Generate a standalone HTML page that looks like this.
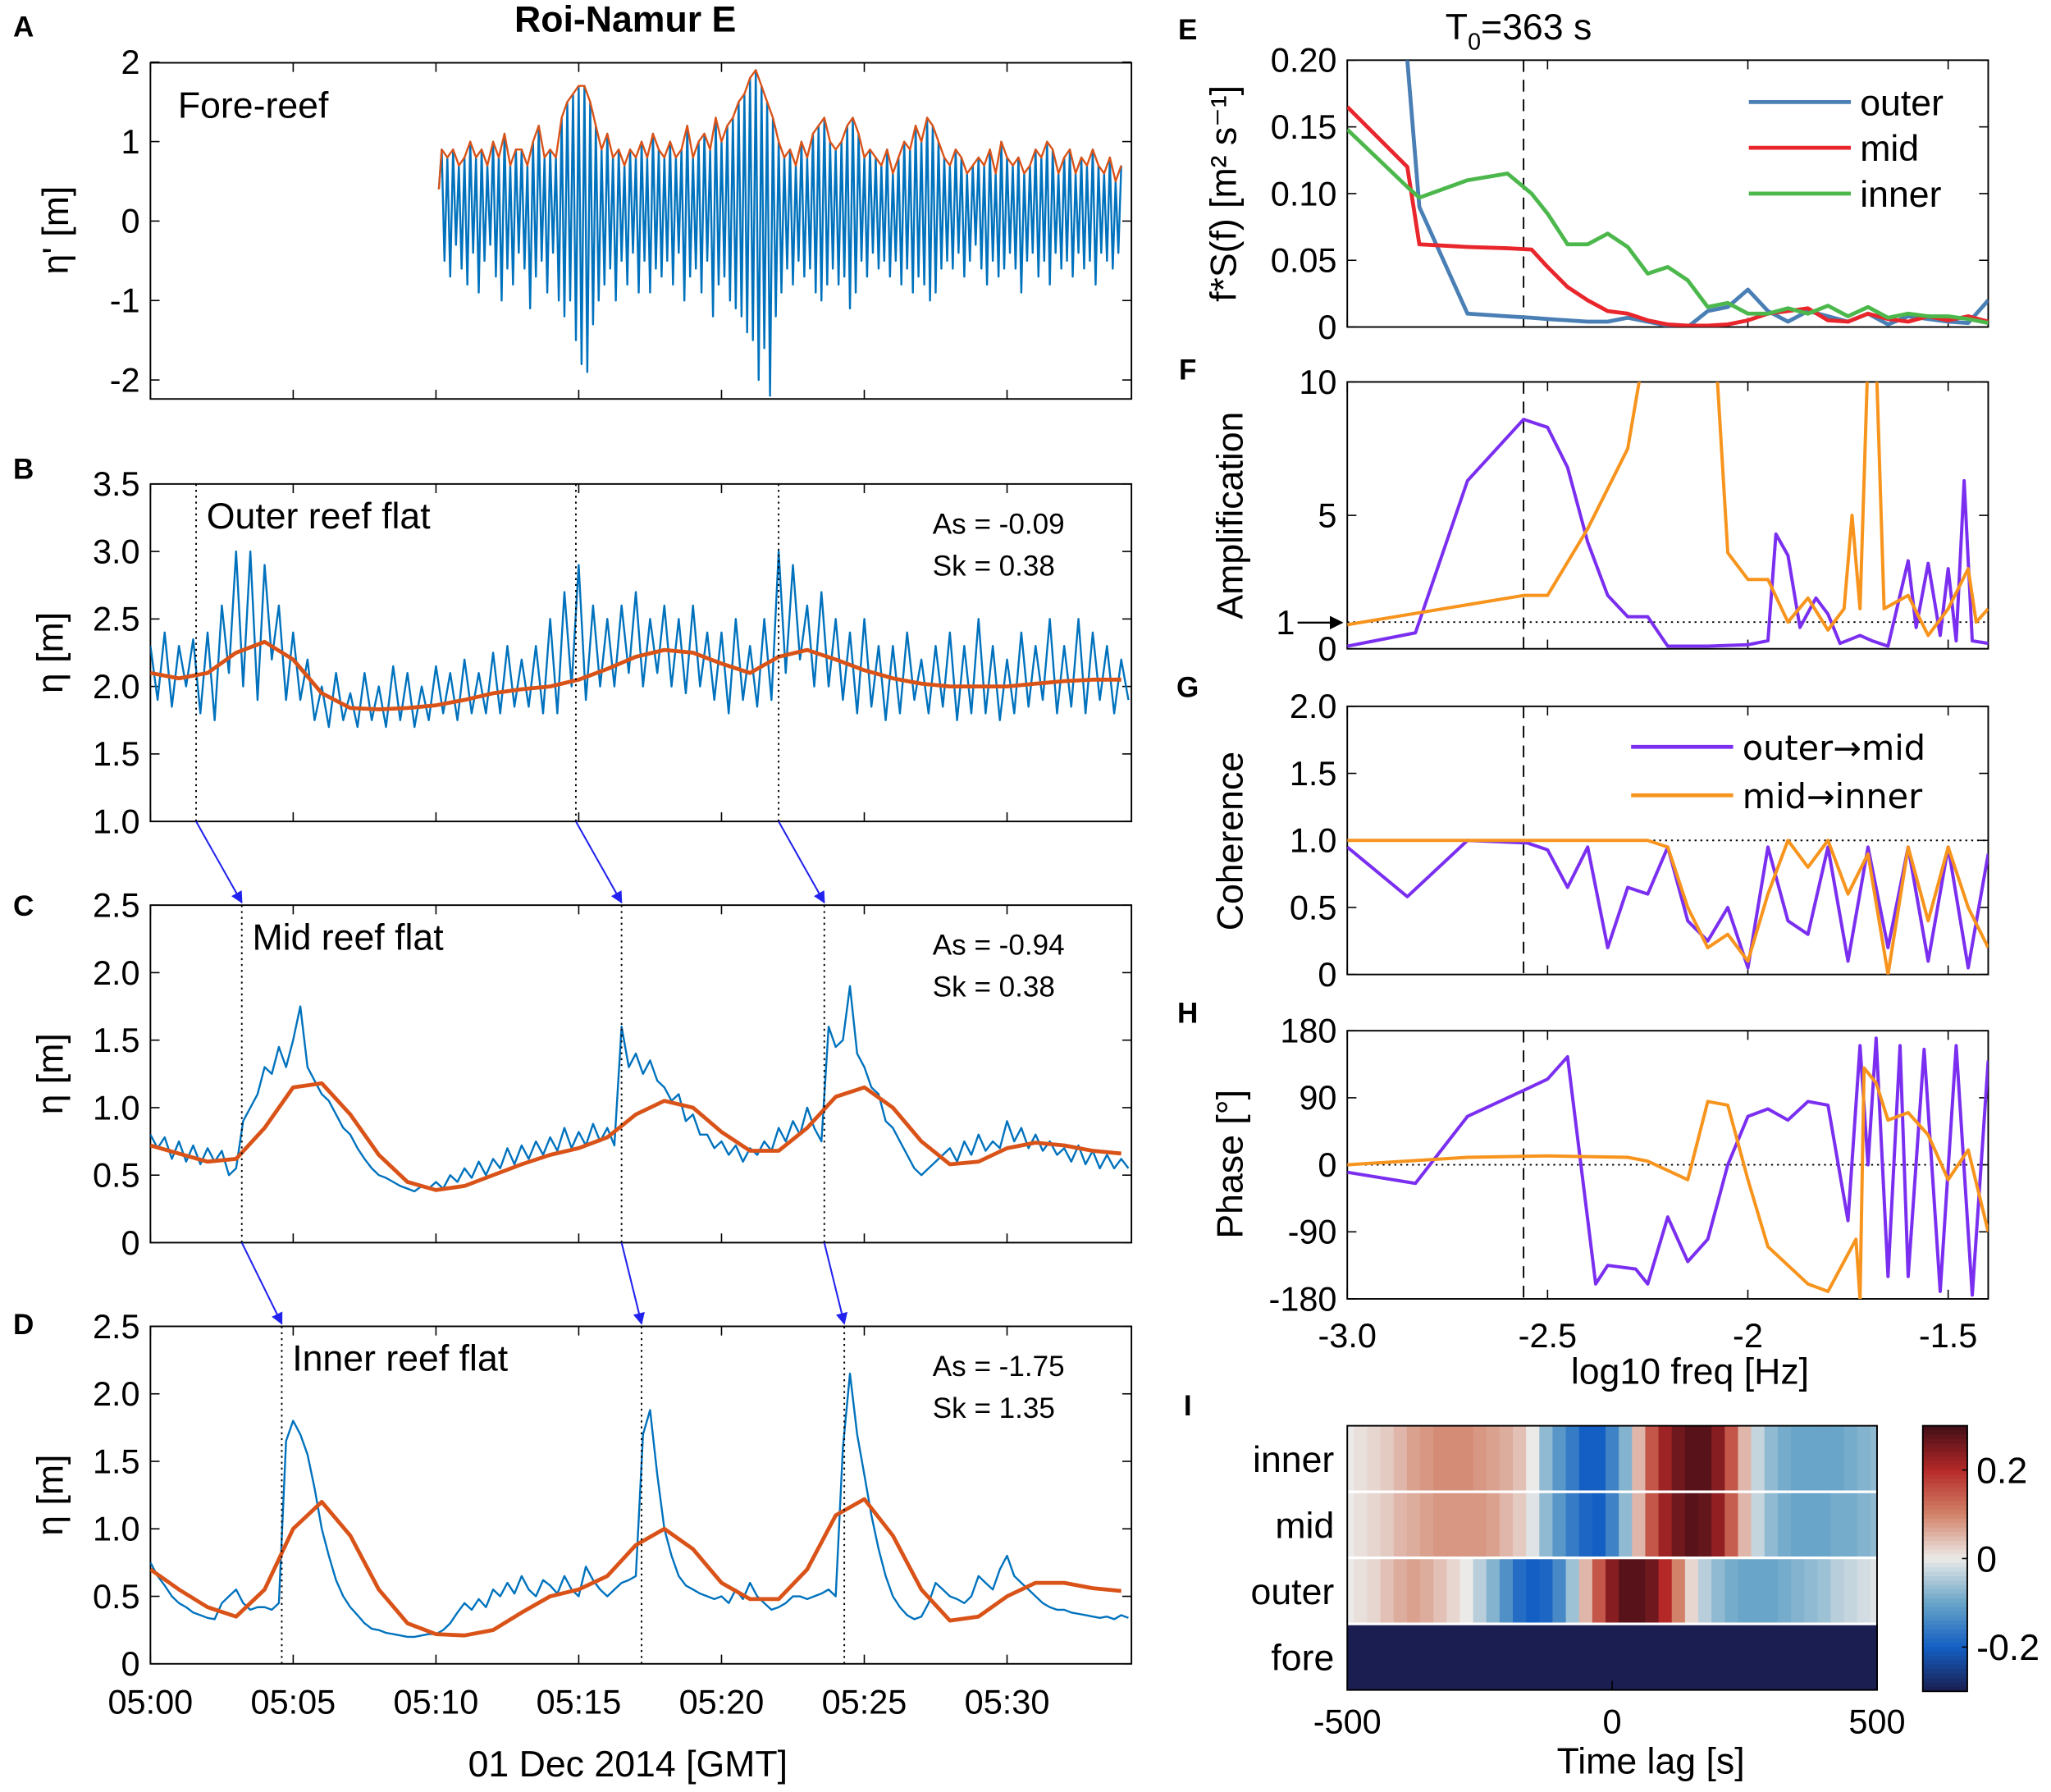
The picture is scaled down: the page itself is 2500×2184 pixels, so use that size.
<!DOCTYPE html>
<html><head><meta charset="utf-8"><style>
html,body{margin:0;padding:0;background:#fff;}
svg{display:block;font-family:"Liberation Sans",Arial,sans-serif;}
</style></head><body>
<svg id="fig" xmlns="http://www.w3.org/2000/svg" width="2500" height="2184" viewBox="0 0 1568 1370" preserveAspectRatio="none">
<defs>
<marker id="arr" viewBox="0 0 10 10" refX="9" refY="5" markerWidth="7" markerHeight="7" orient="auto"><path d="M0,0 L10,5 L0,10 z" fill="#2222ee"/></marker>
<marker id="arrk" viewBox="0 0 10 10" refX="9" refY="5" markerWidth="7" markerHeight="7" orient="auto"><path d="M0,0 L10,5 L0,10 z" fill="#000"/></marker>
</defs>
</svg>
<script>
// ---------------- data ----------------
const aStart = 10.1, aStep = 0.1;
const foreReef = [0.4,0.9,-0.5,0.8,-0.7,0.9,-0.3,0.7,-0.6,0.8,
-0.8,1.0,-0.4,0.8,-0.9,0.9,-0.5,0.7,-0.3,1.0,
-0.7,0.8,-1.0,1.1,-0.6,0.7,-0.8,0.9,-0.4,0.9,
-0.6,0.7,-1.1,1.0,-0.7,1.2,-0.5,0.8,-0.9,0.9,
-0.4,0.8,-1.0,1.3,-1.2,1.5,-1.0,1.6,-1.5,1.7,
-1.8,1.7,-1.9,1.5,-1.3,1.2,-1.0,0.9,-0.8,1.1,
-0.6,0.8,-1.0,0.9,-0.5,0.7,-0.8,0.9,-0.4,0.8,
-0.9,1.0,-0.5,0.8,-0.9,1.1,-0.6,0.9,-0.7,0.8,
-0.5,1.0,-0.8,0.8,-0.4,0.9,-1.0,1.2,-0.7,0.8,
-0.6,1.0,-0.9,1.1,-0.5,0.9,-1.2,1.3,-0.8,1.0,
-0.7,1.2,-1.0,1.3,-1.1,1.5,-1.2,1.6,-1.4,1.8,
-1.5,1.9,-2.0,1.7,-1.6,1.5,-2.2,1.3,-1.2,1.0,
-0.9,0.8,-0.6,0.9,-0.8,0.7,-0.5,1.0,-0.7,0.8,
-0.6,1.1,-0.9,1.2,-1.0,1.3,-0.8,1.0,-0.6,0.9,
-0.8,1.0,-0.7,1.2,-1.1,1.3,-0.9,1.1,-0.5,0.8,
-0.7,0.9,-0.4,0.8,-0.6,0.7,-0.5,0.9,-0.7,0.6,
-0.5,0.8,-0.8,1.0,-0.6,0.9,-0.9,1.2,-0.7,1.0,
-0.8,1.3,-1.0,1.2,-0.9,1.0,-0.6,0.8,-0.5,0.7,
-0.6,0.9,-0.4,0.8,-0.7,0.6,-0.5,0.7,-0.3,0.8,
-0.6,0.7,-0.8,0.9,-0.5,0.6,-0.7,1.0,-0.6,0.8,
-0.4,0.7,-0.6,0.8,-0.9,0.6,-0.5,0.7,-0.4,0.9,
-0.7,0.8,-0.5,1.0,-0.8,0.9,-0.4,0.6,-0.6,0.8,
-0.5,0.9,-0.7,0.6,-0.4,0.8,-0.6,0.7,-0.5,0.9,
-0.8,0.7,-0.4,0.6,-0.5,0.8,-0.6,0.5,-0.4,0.7];
const rawStep = 0.25, meanStep = 1;
const outerRaw = [2.3,1.9,2.4,1.85,2.3,2.0,2.35,1.8,
2.4,1.75,2.6,2.1,3.0,2.0,3.0,1.9,
2.9,2.2,2.6,1.9,2.4,1.9,2.2,1.75,
2.0,1.7,2.1,1.75,1.95,1.7,2.1,1.75,
2.0,1.7,2.15,1.75,2.1,1.7,2.0,1.75,
2.15,1.8,2.1,1.75,2.2,1.8,2.1,1.8,
2.25,1.8,2.3,1.85,2.2,1.85,2.3,1.8,
2.5,1.8,2.7,2.0,2.9,1.9,2.6,2.0,
2.5,2.0,2.6,2.1,2.7,2.0,2.5,2.1,
2.6,2.0,2.5,1.95,2.6,2.0,2.4,1.9,
2.4,1.8,2.5,1.9,2.3,1.85,2.5,1.9,
3.0,2.1,2.9,2.2,2.6,2.0,2.7,2.0,
2.5,1.9,2.4,1.8,2.5,1.85,2.3,1.75,
2.3,1.8,2.4,1.9,2.2,1.8,2.3,1.85,
2.4,1.75,2.3,1.8,2.5,1.8,2.3,1.75,
2.2,1.8,2.4,1.85,2.3,1.9,2.5,1.8,
2.3,1.85,2.5,1.8,2.4,1.9,2.3,1.8,2.2,1.9];
const outerMean = [2.10,2.06,2.10,2.25,2.33,2.20,1.95,1.84,1.83,1.84,1.86,1.90,1.95,1.98,2.00,2.05,2.13,2.22,2.27,2.25,2.17,2.10,2.22,2.27,2.20,2.12,2.06,2.02,2.00,2.00,2.00,2.02,2.04,2.05,2.05];
const midRaw = [0.8,0.7,0.78,0.62,0.75,0.6,0.72,0.58,
0.7,0.6,0.68,0.5,0.55,0.9,1.0,1.1,
1.3,1.25,1.45,1.3,1.5,1.75,1.3,1.2,
1.1,1.05,0.95,0.85,0.8,0.7,0.62,0.55,
0.5,0.48,0.45,0.42,0.4,0.38,0.42,0.4,
0.45,0.4,0.5,0.45,0.55,0.48,0.6,0.5,
0.62,0.55,0.7,0.58,0.72,0.62,0.75,0.65,
0.78,0.68,0.85,0.7,0.82,0.72,0.88,0.75,
0.85,0.72,1.6,1.3,1.4,1.25,1.35,1.2,
1.15,1.05,1.1,0.9,0.95,0.8,0.8,0.7,
0.75,0.65,0.72,0.6,0.7,0.65,0.75,0.68,
0.85,0.75,0.9,0.8,1.0,0.85,0.75,1.6,
1.45,1.5,1.9,1.4,1.3,1.15,1.1,0.9,
0.85,0.75,0.65,0.55,0.5,0.55,0.6,0.65,
0.7,0.6,0.75,0.65,0.8,0.68,0.75,0.7,
0.9,0.75,0.85,0.7,0.8,0.68,0.75,0.65,
0.7,0.6,0.72,0.58,0.68,0.55,0.65,0.55,0.62,0.55];
const midMean = [0.72,0.66,0.60,0.62,0.85,1.15,1.18,0.95,0.65,0.45,0.39,0.42,0.50,0.58,0.65,0.70,0.78,0.95,1.05,1.00,0.82,0.68,0.68,0.85,1.08,1.15,1.00,0.75,0.58,0.60,0.70,0.74,0.72,0.68,0.66];
const innerRaw = [0.75,0.65,0.58,0.5,0.45,0.42,0.38,0.36,
0.34,0.33,0.45,0.5,0.55,0.45,0.4,0.42,
0.42,0.4,0.45,1.65,1.8,1.7,1.55,1.3,
1.0,0.8,0.62,0.5,0.42,0.36,0.3,0.26,
0.25,0.23,0.22,0.21,0.2,0.2,0.21,0.22,
0.22,0.25,0.3,0.38,0.45,0.4,0.48,0.42,
0.55,0.5,0.6,0.52,0.65,0.55,0.5,0.62,
0.58,0.52,0.65,0.55,0.5,0.72,0.62,0.55,
0.5,0.55,0.6,0.62,0.65,1.7,1.88,1.4,
1.0,0.8,0.65,0.58,0.55,0.52,0.5,0.48,
0.5,0.45,0.55,0.48,0.6,0.5,0.45,0.4,
0.42,0.45,0.5,0.5,0.48,0.5,0.52,0.55,
0.5,1.6,2.15,1.7,1.4,1.1,0.85,0.65,
0.5,0.42,0.36,0.33,0.35,0.45,0.6,0.55,
0.5,0.48,0.45,0.5,0.65,0.6,0.55,0.7,
0.8,0.65,0.6,0.55,0.5,0.45,0.42,0.4,
0.4,0.38,0.37,0.36,0.35,0.34,0.35,0.33,0.36,0.34];
const innerMean = [0.70,0.55,0.42,0.35,0.55,1.00,1.20,0.95,0.55,0.30,0.22,0.21,0.25,0.38,0.50,0.55,0.65,0.88,1.00,0.85,0.60,0.48,0.48,0.70,1.10,1.22,0.95,0.55,0.32,0.35,0.50,0.60,0.60,0.56,0.54];
const eventsB = [1.6,14.9,22.0], eventsC = [3.2,16.5,23.6], eventsD = [4.6,17.2,24.3];

// spectra (log10 freq, value)
const specFreq = [-3.0,-2.85,-2.82,-2.7,-2.6,-2.54,-2.5,-2.45,-2.4,-2.35,-2.3,-2.25,-2.2,-2.15,-2.1,-2.05,-2.0,-1.95,-1.9,-1.85,-1.8,-1.75,-1.7,-1.65,-1.6,-1.55,-1.5,-1.45,-1.4];
const specOuter = [0.5,0.2,0.09,0.01,0.008,0.007,0.006,0.005,0.004,0.004,0.007,0.004,0.001,0.0,0.012,0.015,0.028,0.012,0.004,0.012,0.008,0.004,0.010,0.002,0.008,0.006,0.004,0.003,0.02];
const specMid = [0.165,0.12,0.062,0.06,0.059,0.058,0.045,0.03,0.02,0.012,0.01,0.005,0.002,0.001,0.001,0.002,0.005,0.01,0.012,0.014,0.005,0.004,0.01,0.006,0.004,0.008,0.005,0.008,0.004];
const specInner = [0.148,0.105,0.097,0.11,0.115,0.1,0.085,0.062,0.062,0.07,0.06,0.04,0.045,0.035,0.015,0.018,0.01,0.01,0.014,0.01,0.016,0.008,0.015,0.007,0.01,0.008,0.008,0.006,0.003];
const ampFreq = [-3.0,-2.83,-2.7,-2.56,-2.5,-2.45,-2.4,-2.35,-2.3,-2.25,-2.2,-2.1,-2.0,-1.95,-1.93,-1.9,-1.87,-1.83,-1.8,-1.77,-1.72,-1.69,-1.65,-1.6,-1.58,-1.55,-1.52,-1.5,-1.48,-1.46,-1.44,-1.4];
const ampOuterMid = [0.1,0.6,6.3,8.6,8.3,6.8,4.0,2.0,1.2,1.2,0.1,0.1,0.15,0.3,4.3,3.5,0.8,1.9,1.3,0.2,0.5,0.3,0.1,3.3,0.8,3.2,0.5,3.0,0.3,6.3,0.3,0.2];
const ampFreq2 = [-3.0,-2.56,-2.5,-2.4,-2.3,-2.26,-2.08,-2.05,-2.0,-1.95,-1.9,-1.85,-1.8,-1.76,-1.74,-1.72,-1.7,-1.68,-1.66,-1.6,-1.55,-1.5,-1.45,-1.43,-1.4];
const ampMidInner = [0.9,2.0,2.0,4.5,7.5,11,11,3.6,2.6,2.6,1.0,1.9,0.7,1.5,5.0,1.5,11,11,1.5,2.0,0.5,1.5,3.0,1.0,1.5];
const cohFreq = [-3.0,-2.85,-2.7,-2.55,-2.5,-2.45,-2.4,-2.35,-2.3,-2.25,-2.2,-2.15,-2.1,-2.05,-2.0,-1.95,-1.9,-1.85,-1.8,-1.75,-1.7,-1.65,-1.6,-1.55,-1.5,-1.45,-1.4];
const cohOuterMid = [0.95,0.58,1.0,0.98,0.93,0.65,0.95,0.2,0.65,0.6,0.95,0.4,0.25,0.5,0.05,0.95,0.4,0.3,0.95,0.1,0.95,0.2,0.95,0.1,0.95,0.05,0.9];
const cohMidInner = [1.0,1.0,1.0,1.0,1.0,1.0,1.0,1.0,1.0,1.0,0.95,0.5,0.2,0.3,0.1,0.6,1.0,0.8,1.0,0.6,0.9,0.0,0.95,0.4,0.95,0.5,0.2];
const phFreq = [-3.0,-2.83,-2.7,-2.56,-2.5,-2.45,-2.38,-2.35,-2.28,-2.25,-2.2,-2.15,-2.1,-2.05,-2.0,-1.95,-1.9,-1.85,-1.8,-1.75,-1.72,-1.7,-1.68,-1.65,-1.62,-1.6,-1.56,-1.52,-1.48,-1.44,-1.4];
const phOuterMid = [-10,-25,65,100,115,145,-160,-135,-140,-160,-70,-130,-100,0,65,75,60,85,80,-75,160,0,170,-150,160,-150,155,-170,160,-175,140];
const phFreq2 = [-3.0,-2.7,-2.5,-2.3,-2.25,-2.15,-2.1,-2.05,-2.0,-1.95,-1.85,-1.8,-1.75,-1.73,-1.72,-1.71,-1.68,-1.65,-1.6,-1.55,-1.5,-1.45,-1.4];
const phMidInner = [0,10,12,10,5,-20,85,80,-20,-110,-160,-170,-120,-100,-180,130,110,60,70,40,-20,20,-90];

// heatmap
const lagStart = -500, lagStep = 25;
const rowNames = ["inner","mid","outer","fore"];
const corrInner = [0,0.01,0.02,0.03,0.05,0.07,0.08,0.09,0.09,0.09,0.08,0.07,0.06,0.04,0.0,-0.07,-0.12,-0.16,-0.2,-0.2,-0.15,-0.08,0.05,0.15,0.22,0.26,0.28,0.28,0.24,0.15,0.05,-0.03,-0.07,-0.09,-0.1,-0.1,-0.1,-0.1,-0.09,-0.08,-0.07];
const corrMid = [0,0.01,0.02,0.03,0.05,0.06,0.07,0.08,0.08,0.08,0.08,0.07,0.05,0.03,-0.01,-0.07,-0.12,-0.16,-0.19,-0.2,-0.15,-0.07,0.05,0.15,0.22,0.26,0.28,0.27,0.23,0.14,0.05,-0.03,-0.07,-0.09,-0.1,-0.1,-0.1,-0.09,-0.09,-0.08,-0.07];
const corrOuter = [0,0.01,0.02,0.04,0.06,0.07,0.06,0.04,0.02,0.0,-0.04,-0.08,-0.13,-0.18,-0.2,-0.19,-0.14,-0.06,0.05,0.15,0.24,0.28,0.28,0.26,0.2,0.1,0.02,-0.04,-0.07,-0.09,-0.1,-0.1,-0.1,-0.09,-0.08,-0.07,-0.06,-0.04,-0.03,-0.02,-0.01];
const corrFore = [-0.3,-0.3,-0.3,-0.3,-0.3,-0.3,-0.3,-0.3,-0.3,-0.3,-0.3,-0.3,-0.3,-0.3,-0.3,-0.3,-0.3,-0.3,-0.3,-0.3,-0.3,-0.3,-0.3,-0.3,-0.3,-0.3,-0.3,-0.3,-0.3,-0.3,-0.3,-0.3,-0.3,-0.3,-0.3,-0.3,-0.3,-0.3,-0.3,-0.3,-0.3];

// ---------------- drawing ----------------
const NS = "http://www.w3.org/2000/svg";
const svg = document.getElementById('fig');
function mk(tag, attrs, parent){const e=document.createElementNS(NS,tag);for(const k in attrs)e.setAttribute(k,attrs[k]);(parent||svg).appendChild(e);return e;}
function txt(x,y,s,size,anchor,extra){const e=mk('text',Object.assign({x:x,y:y,'font-size':size,'text-anchor':anchor||'middle',fill:'#000'},extra||{}));e.textContent=s;return e;}
let clipN=0;
function clip(x0,y0,x1,y1){const id='c'+(clipN++);const cp=mk('clipPath',{id:id});mk('rect',{x:x0,y:y0,width:x1-x0,height:y1-y0},cp);return 'url(#'+id+')';}
function poly(xs,ys,fx,fy,color,w,cl){const p=xs.map((x,i)=>fx(x).toFixed(1)+','+fy(ys[i]).toFixed(1)).join(' ');return mk('polyline',{points:p,fill:'none',stroke:color,'stroke-width':w,'stroke-linejoin':'round','clip-path':cl});}

const xT = t => 115 + t*21.83;
const X0=115, X1=865;
const BLUE='#0072bd', ORANGE='#d95319';
function timeFrame(y0,y1,name){
  const r=mk('rect',{x:X0,y:y0,width:X1-X0,height:y1-y0,fill:'none',stroke:'#000','stroke-width':1.2});
  
  
  for(let m=0;m<=30;m+=5){const x=xT(m);
    const t1=mk('line',{x1:x,x2:x,y1:y1,y2:y1-7,stroke:'#000','stroke-width':1});
    
    
    const t2=mk('line',{x1:x,x2:x,y1:y0,y2:y0+7,stroke:'#000','stroke-width':1});
    
    }
}
function yTicks(vals,labels,fy,xL,xR,name){vals.forEach((v,i)=>{const y=fy(v);
  const t=mk('line',{x1:xL,x2:xL+7,y1:y,y2:y,stroke:'#000','stroke-width':1});
  
  
  const t2=mk('line',{x1:xR,x2:xR-7,y1:y,y2:y,stroke:'#000','stroke-width':1});
  
  
  const l=txt(xL-8,y+9,labels[i],26,'end');
  
  });}
function ylabel(x,y,s,name){const e=txt(x,y,s,28,'middle',{transform:'rotate(-90 '+x+' '+y+')'});
  
  return e;}

let e=txt(478,24,'Roi-Namur E',28,'middle',{'font-weight':'bold'});


[['A',18,28],['B',18,366],['C',18,700],['D',18,1020],['E',908,30],['F',908,290],['G',908,533],['H',908,782],['I',908,1082]].forEach(a=>{
  const l=txt(a[1],a[2],a[0],22,'middle',{'font-weight':'bold'});
  
  });

// Panel A
const yA = v => 169 - v*60.75;
timeFrame(48,305,'panel-a');
yTicks([-2,-1,0,1,2],['-2','-1','0','1','2'],yA,X0,X1,'panel-a');
ylabel(52,176,"η' [m]",'panel-a-y-label');
const clA=clip(X0,48,X1,305);
const tA=foreReef.map((v,i)=>aStart+i*aStep);
e=poly(tA,foreReef,xT,yA,BLUE,1.5,clA);


const envT=[],envV=[];foreReef.forEach((v,i)=>{if(v>0.3||i===0){envT.push(tA[i]);envV.push(v);}});
e=poly(envT,envV,xT,yA,ORANGE,1.5,clA);


e=txt(136,90,'Fore-reef',28,'start');



function tsPanel(y0,y1,fy,ticks,labels,raw,mean,events,title,as,sk,name){
  timeFrame(y0,y1,name);
  yTicks(ticks,labels,fy,X0,X1,name);
  ylabel(48,(y0+y1)/2,'η [m]',name+'-y-label');
  const cl=clip(X0,y0,X1,y1);
  const tr=raw.map((v,i)=>i*rawStep);
  let p=poly(tr,raw,xT,fy,BLUE,1.5,cl);
  
  
  const tm=mean.map((v,i)=>i*meanStep);
  p=poly(tm,mean,xT,fy,ORANGE,3,cl);
  
  
  events.forEach(t=>{const l=mk('line',{x1:xT(t),x2:xT(t),y1:y0,y2:y1,stroke:'#000','stroke-width':1.2,'stroke-dasharray':'1.5,3'});
    
    });
  let q=txt(xT(events[0])+8,y0+34,title,28,'start');
  
  
  q=txt(713,y0+38,'As = '+as,22,'start');
  
  
  q=txt(713,y0+70,'Sk = '+sk,22,'start');
  
  
}
const yB=v=>628-(v-1)*103.2, yC=v=>950-v*103.2, yD=v=>1272-v*103.2;
tsPanel(370,628,yB,[1,1.5,2,2.5,3,3.5],['1.0','1.5','2.0','2.5','3.0','3.5'],outerRaw,outerMean,eventsB,'Outer reef flat','-0.09','0.38','panel-b');
tsPanel(692,950,yC,[0,0.5,1,1.5,2,2.5],['0','0.5','1.0','1.5','2.0','2.5'],midRaw,midMean,eventsC,'Mid reef flat','-0.94','0.38','panel-c');
tsPanel(1014,1272,yD,[0,0.5,1,1.5,2,2.5],['0','0.5','1.0','1.5','2.0','2.5'],innerRaw,innerMean,eventsD,'Inner reef flat','-1.75','1.35','panel-d');
[[eventsB,eventsC,628,692],[eventsC,eventsD,950,1014]].forEach(g=>{g[0].forEach((t,i)=>{
  const a=mk('line',{x1:xT(t),y1:g[2],x2:xT(g[1][i]),y2:g[3]-2,stroke:'#2222ee','stroke-width':1.3,'marker-end':'url(#arr)'});
  
  });});
['05:00','05:05','05:10','05:15','05:20','05:25','05:30'].forEach((s,i)=>{
  const l=txt(xT(i*5),1310,s,26,'middle');
  
  });
e=txt(480,1358,'01 Dec 2014 [GMT]',28,'middle');



const RX0=1030, RX1=1520;
const xL = l => RX0 + (l+3)*306.25;
function rFrame(y0,y1,name){
  const r=mk('rect',{x:RX0,y:y0,width:RX1-RX0,height:y1-y0,fill:'none',stroke:'#000','stroke-width':1.2});
  
  
  [-3,-2.5,-2,-1.5].forEach(v=>{const x=xL(v);
    const t=mk('line',{x1:x,x2:x,y1:y1,y2:y1-7,stroke:'#000','stroke-width':1});
    
    
    const t2=mk('line',{x1:x,x2:x,y1:y0,y2:y0+7,stroke:'#000','stroke-width':1});
    
    });
  const d=mk('line',{x1:xL(Math.log10(1/363)),x2:xL(Math.log10(1/363)),y1:y0,y2:y1,stroke:'#000','stroke-width':1.2,'stroke-dasharray':'9,6'});
  
  
  return clip(RX0,y0,RX1,y1);
}
function refLine(y,name){const l=mk('line',{x1:RX0,x2:RX1,y1:y,y2:y,stroke:'#000','stroke-width':1.2,'stroke-dasharray':'1.5,3'});
  
  }
const PURPLE='#7a2ff0', YORANGE='#f7941d';
const yE=v=>250-v*1020;
let cl=rFrame(46,250,'panel-e');
yTicks([0,0.05,0.1,0.15,0.2],['0','0.05','0.10','0.15','0.20'],yE,RX0,RX1,'panel-e');
ylabel(945,148,'f*S(f) [m² s⁻¹]','panel-e-y-label');
[[specOuter,'#4a7fb5','outer'],[specMid,'#e8262b','mid'],[specInner,'#4cb84c','inner']].forEach((s,i)=>{
  const p=poly(specFreq,s[0],xL,yE,s[1],3,cl);
  
  
  const y=78+i*35;
  const l=mk('line',{x1:1337,x2:1415,y1:y,y2:y,stroke:s[1],'stroke-width':3});
  
  
  const t=txt(1422,y+10,s[2],28,'start');
  
  });
e=mk('text',{x:1105,y:30,'font-size':28,fill:'#000'});
e.innerHTML='T<tspan font-size="18" dy="8">0</tspan><tspan dy="-8">=363 s</tspan>';


const yF=v=>496-v*20.4;
cl=rFrame(292,496,'panel-f');
yTicks([0,5,10],['0','5','10'],yF,RX0,RX1,'panel-f');
e=txt(990,485,'1',26,'end');


e=mk('line',{x1:992,x2:1026,y1:476,y2:476,stroke:'#000','stroke-width':1.5,'marker-end':'url(#arrk)'});


refLine(yF(1),'panel-f-unity-line');
ylabel(950,394,'Amplification','panel-f-y-label');
e=poly(ampFreq,ampOuterMid,xL,yF,PURPLE,2.5,cl);


e=poly(ampFreq2,ampMidInner,xL,yF,YORANGE,2.5,cl);


const yG=v=>745-v*102.5;
cl=rFrame(540,745,'panel-g');
yTicks([0,0.5,1,1.5,2],['0','0.5','1.0','1.5','2.0'],yG,RX0,RX1,'panel-g');
refLine(yG(1),'panel-g-unity-line');
ylabel(950,643,'Coherence','panel-g-y-label');
e=poly(cohFreq,cohOuterMid,xL,yG,PURPLE,2.5,cl);


e=poly(cohFreq,cohMidInner,xL,yG,YORANGE,2.5,cl);


[[PURPLE,'outer→mid'],[YORANGE,'mid→inner']].forEach((s,i)=>{const y=571+i*37;
  const l=mk('line',{x1:1247,x2:1325,y1:y,y2:y,stroke:s[0],'stroke-width':3});
  
  
  const t=txt(1332,y+10,s[1],28,'start',{'font-family':'"DejaVu Sans","Liberation Sans",sans-serif','font-size':26});
  
  });
const yH=v=>890.5-v*0.5694;
cl=rFrame(788,993,'panel-h');
yTicks([-180,-90,0,90,180],['-180','-90','0','90','180'],yH,RX0,RX1,'panel-h');
refLine(yH(0),'panel-h-zero-line');
ylabel(950,890,'Phase [°]','panel-h-y-label');
e=poly(phFreq,phOuterMid,xL,yH,PURPLE,2.5,cl);


e=poly(phFreq2,phMidInner,xL,yH,YORANGE,2.5,cl);


[[-3,'-3.0'],[-2.5,'-2.5'],[-2,'-2'],[-1.5,'-1.5']].forEach(a=>{const l=txt(xL(a[0]),1030,a[1],26,'middle');
  
  });
e=txt(1292,1058,'log10 freq [Hz]',28,'middle');



// I heatmap
const cmStops=[[-0.3,[26,30,80]],[-0.2,[20,95,195]],[-0.1,[105,165,200]],[0,[236,234,232]],[0.1,[210,130,105]],[0.2,[180,40,40]],[0.3,[65,14,22]]];
function cmap(v){v=Math.max(-0.3,Math.min(0.3,v));for(let i=0;i<cmStops.length-1;i++){const a=cmStops[i],b=cmStops[i+1];if(v<=b[0]){const f=(v-a[0])/(b[0]-a[0]);return 'rgb('+a[1].map((c,k)=>Math.round(c+f*(b[1][k]-c))).join(',')+')';}}return 'rgb(65,14,22)';}
const HX0=1030,HX1=1435,HY0=1090,HY1=1292;
const xLag=l=>HX0+(l+500)/1000*(HX1-HX0);
const rowH=(HY1-HY0)/4;
[corrInner,corrMid,corrOuter,corrFore].forEach((row,r)=>{
  row.forEach((v,i)=>{const lag=lagStart+i*lagStep;
    const x0=Math.max(HX0,xLag(lag-lagStep/2)), x1=Math.min(HX1,xLag(lag+lagStep/2));
    const c=mk('rect',{x:x0,y:HY0+r*rowH,width:x1-x0+0.6,height:rowH,fill:cmap(v)});
    
    });
  if(r>0){const s=mk('line',{x1:HX0,x2:HX1,y1:HY0+r*rowH,y2:HY0+r*rowH,stroke:'#fff','stroke-width':2});
    
    }
  const t=txt(1020,HY0+r*rowH+rowH/2+10,rowNames[r],28,'end');
  
  });
e=mk('rect',{x:HX0,y:HY0,width:HX1-HX0,height:HY1-HY0,fill:'none',stroke:'#000','stroke-width':1.2});


[[-500,'-500'],[0,'0'],[500,'500']].forEach(a=>{const l=txt(xLag(a[0]),1325,a[1],26,'middle');
  
  
  const t=mk('line',{x1:xLag(a[0]),x2:xLag(a[0]),y1:HY1,y2:HY1-7,stroke:'#000'});
  
  });
e=txt(1262,1356,'Time lag [s]',28,'middle');


// colorbar
const CX0=1470,CW=34,CY0=1090,CY1=1293,yCb=v=>CY0+(0.3-v)/0.6*(CY1-CY0);
for(let k=0;k<60;k++){const v=0.3-(k+0.5)*0.01;
  const c=mk('rect',{x:CX0,y:yCb(v+0.005),width:CW,height:(CY1-CY0)/60+0.5,fill:cmap(v)});
  
  }
e=mk('rect',{x:CX0,y:CY0,width:CW,height:CY1-CY0,fill:'none',stroke:'#000','stroke-width':1.2});


[[0.2,'0.2'],[0,'0'],[-0.2,'-0.2']].forEach(a=>{const l=txt(1511,yCb(a[0])+10,a[1],28,'start');
  
  
  const t=mk('line',{x1:CX0+CW,x2:CX0+CW-4,y1:yCb(a[0]),y2:yCb(a[0]),stroke:'#000'});
  
  });
</script>
</body></html>
